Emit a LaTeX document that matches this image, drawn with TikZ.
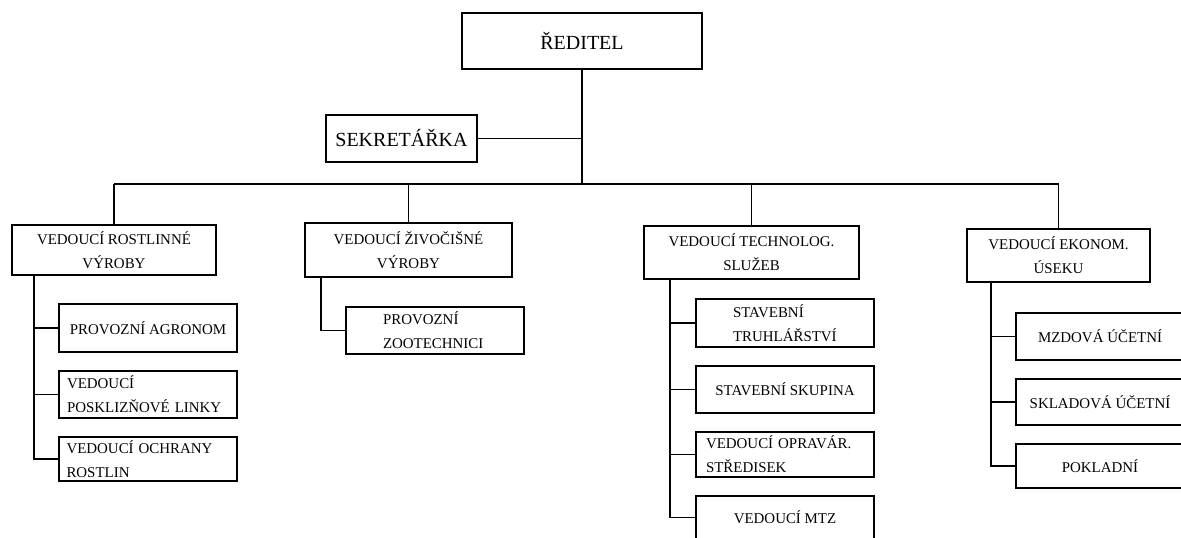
\documentclass[tikz,border=0pt]{standalone}
\usepackage{fontspec}
\setmainfont{Liberation Serif}
\usetikzlibrary{positioning,calc}

\begin{document}
\begin{tikzpicture}[x=0.75pt,y=-0.75pt,node distance=14.25pt]

 \tikzstyle{box}=[rectangle,draw=black,line width=1.15pt,inner sep=2pt,outer sep=0pt,
align=center,font=\fontsize{11.2}{18}\selectfont]
 \tikzstyle{big}=[box,font=\fontsize{15}{18}\selectfont]
 \tikzstyle{sub}=[box,minimum width=133.5pt,minimum height=35.25pt]
 \tikzstyle{link}=[line width=1.15pt]

\useasboundingbox (0,0) rectangle (1181,537);
\clip (0,0) rectangle (1181,537);

% Director and secretary
\node[big,minimum width=180pt,minimum height=42pt] (B_RED) at (582,41) {ŘEDITEL};
\node[big,minimum width=113.25pt,minimum height=35.25pt] (B_SEK) at (401.5,138.5) {SEKRETÁŘKA};

% Heads
\node[box,minimum width=153pt,minimum height=37.5pt] (B_VRV) at (114,250) {VEDOUCÍ ROSTLINNÉ\\VÝROBY};
\node[box,minimum width=155.25pt,minimum height=40.5pt] (B_VZV) at (408.5,250) {VEDOUCÍ ŽIVOČIŠNÉ\\VÝROBY};
\node[box,minimum width=161.25pt,minimum height=39.75pt] (B_VTS) at (751.5,252.5) {VEDOUCÍ TECHNOLOG.\\SLUŽEB};
\node[box,minimum width=137.25pt,minimum height=39.75pt] (B_VEK) at (1058.5,255.5) {VEDOUCÍ EKONOM.\\ÚSEKU};

% First column
\node[sub,minimum height=36pt] (B_PA) at (148,328) {PROVOZNÍ AGRONOM};
\node[sub,align=left,inner xsep=6pt,text width=121.5pt] (B_VPL) [below=of B_PA] {VEDOUCÍ\\POSKLIZŇOVÉ LINKY};
\node[sub,align=left,inner xsep=5.25pt,text width=122.25pt,minimum height=33pt] (B_VOR) [below=of B_VPL] {VEDOUCÍ OCHRANY\\ROSTLIN};

% Second column
\node[sub,align=left,inner xsep=27.75pt,text width=78pt] (B_PZ) at (435,330.5) {PROVOZNÍ\\ZOOTECHNICI};

% Third column
\node[sub,align=left,inner xsep=27.75pt,text width=78pt,minimum height=36pt] (B_ST) at (785,323) {STAVEBNÍ\\TRUHLÁŘSTVÍ};
\node[sub] (B_SS) [below=of B_ST] {STAVEBNÍ SKUPINA};
\node[sub,align=left,inner xsep=6.75pt,text width=118.5pt,minimum height=33.75pt] (B_VOS) [below=of B_SS] {VEDOUCÍ OPRAVÁR.\\STŘEDISEK};
\node[sub,minimum height=32.25pt] (B_MTZ) [below=of B_VOS] {VEDOUCÍ MTZ};

% Fourth column
\node[sub,minimum width=126pt] (B_MU) at (1100,336.5) {MZDOVÁ ÚČETNÍ};
\node[sub,minimum width=126pt,minimum height=34.5pt] (B_SU) [below=of B_MU] {SKLADOVÁ ÚČETNÍ};
\node[sub,minimum width=126pt,minimum height=33pt] (B_PK) [below=of B_SU] {POKLADNÍ};

% Bus
\coordinate (BUS) at (0,184);
\draw[link] (B_RED.south) -- (B_RED.south |- BUS);
\draw[link] (B_SEK.east) -- (B_SEK.east -| B_RED.south);
\draw[link] (B_VRV.north |- BUS) -- (B_VEK.north |- BUS);
\foreach \h in {B_VRV,B_VZV,B_VTS,B_VEK}
  \draw[link] (\h.north |- BUS) -- (\h.north);

% Branches
\coordinate (T_VRV) at ($(B_VRV.south west)+(22,0)$);
\coordinate (T_VZV) at ($(B_VZV.south west)+(16,0)$);
\coordinate (T_VTS) at ($(B_VTS.south west)+(26,0)$);
\coordinate (T_VEK) at ($(B_VEK.south west)+(24,0)$);

\foreach \c in {B_PA,B_VPL,B_VOR}
  \draw[link] (T_VRV) |- (\c.west);
\draw[link] (T_VZV) |- (B_PZ.west);
\foreach \c in {B_ST,B_SS,B_VOS,B_MTZ}
  \draw[link] (T_VTS) |- (\c.west);
\foreach \c in {B_MU,B_SU,B_PK}
  \draw[link] (T_VEK) |- (\c.west);

\end{tikzpicture}
\end{document}
